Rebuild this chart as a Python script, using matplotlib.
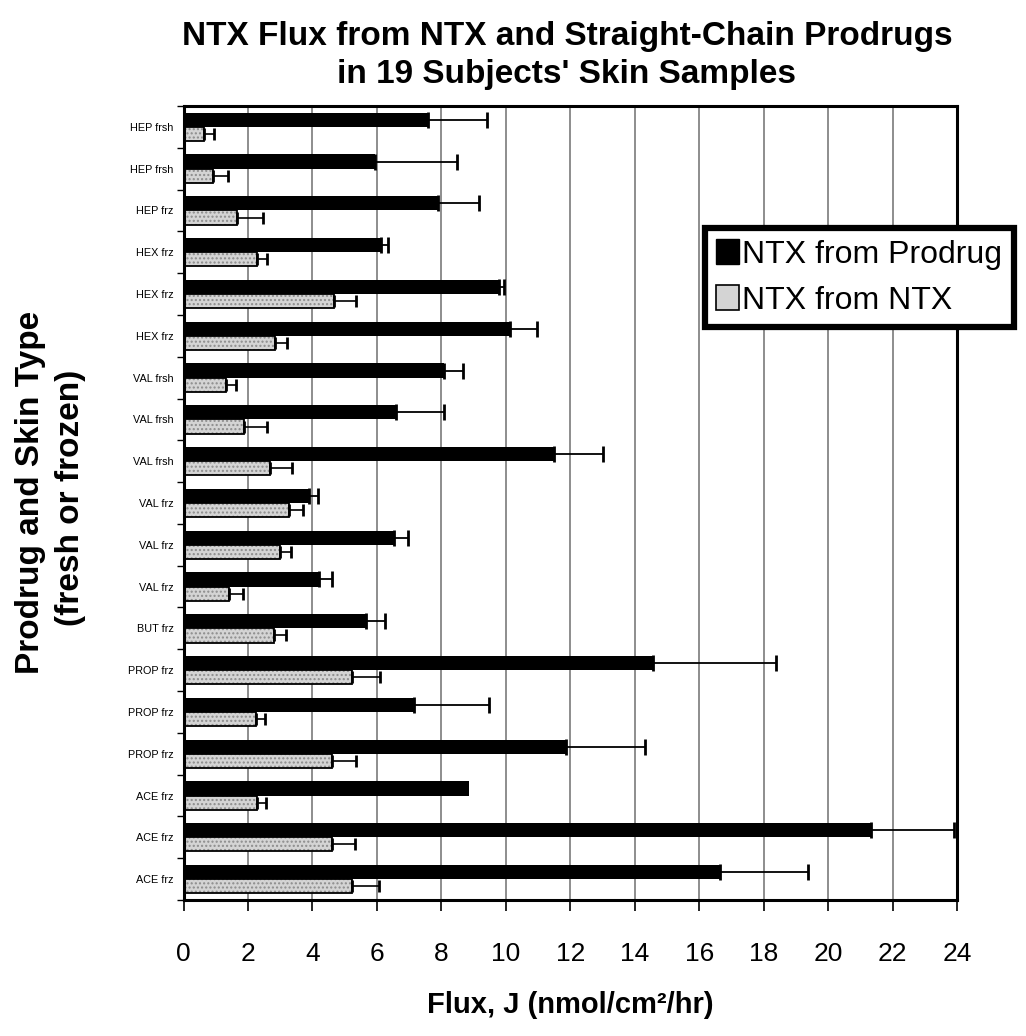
import numpy as np
import matplotlib.pyplot as plt
from matplotlib.patches import Patch

# samples, top to bottom
labels = ["HEP frsh", "HEP frsh", "HEP frz", "HEX frz", "HEX frz", "HEX frz",
          "VAL frsh", "VAL frsh", "VAL frsh", "VAL frz", "VAL frz", "VAL frz",
          "BUT frz", "PROP frz", "PROP frz", "PROP frz",
          "ACE frz", "ACE frz", "ACE frz"]

# NTX from prodrug (black bars) and its SD
prodrug = [7.60, 5.95, 7.88, 6.13, 9.80, 10.14, 8.09, 6.60, 11.48, 3.88,
           6.54, 4.19, 5.66, 14.56, 7.14, 11.87, 8.85, 21.33, 16.65]
prodrug_err = [1.82, 2.53, 1.30, 0.20, 0.15, 0.83, 0.58, 1.49, 1.52, 0.28,
               0.41, 0.43, 0.60, 3.82, 2.33, 2.46, 0.0, 2.57, 2.73]

# NTX from NTX (grey bars) and its SD
ntx = [0.62, 0.92, 1.67, 2.29, 4.68, 2.84, 1.32, 1.88, 2.69, 3.26,
       3.00, 1.42, 2.81, 5.22, 2.25, 4.62, 2.27, 4.62, 5.22]
ntx_err = [0.33, 0.45, 0.78, 0.29, 0.68, 0.36, 0.30, 0.70, 0.67, 0.46,
           0.33, 0.44, 0.37, 0.88, 0.28, 0.73, 0.28, 0.71, 0.83]

x_ticks = list(range(0, 25, 2))
legend_labels = ["NTX from Prodrug", "NTX from NTX"]

plt.rcParams["font.family"] = ["Liberation Sans", "DejaVu Sans"]
narrow = ["Liberation Sans Narrow", "Liberation Sans", "DejaVu Sans"]

fig = plt.figure(figsize=(10.26, 10.36), dpi=100)
ax = fig.add_axes([0.1789, 0.1313, 0.7539, 0.7664])

y = np.arange(len(labels))
h = 0.34
grey = "#d4d4d4"

# bars
ax.barh(y - h / 2, prodrug, height=h, color="black", zorder=2)
ax.barh(y + h / 2, ntx, height=h, color=grey, edgecolor="#8c8c8c",
        hatch="....", linewidth=0, zorder=2)
ax.barh(y + h / 2, ntx, height=h, facecolor="none", edgecolor="black",
        linewidth=1.3, zorder=3)

# one-sided error bars
pe = np.array(prodrug_err)
m = pe > 0
ax.errorbar(np.array(prodrug)[m], (y - h / 2)[m], xerr=[np.zeros(m.sum()), pe[m]],
            fmt="none", ecolor="black", elinewidth=1.3, capsize=6, capthick=2, zorder=4)
ne = np.array(ntx_err)
ax.errorbar(ntx, y + h / 2, xerr=[np.zeros(len(ne)), ne],
            fmt="none", ecolor="black", elinewidth=1.2, capsize=4.5, capthick=2, zorder=4)

# axes
ax.set_xlim(0, 24)
ax.set_ylim(len(labels) - 0.5, -0.5)
ax.set_xticks(x_ticks)
ax.set_xticklabels([str(t) for t in x_ticks])
ax.set_yticks(y)
ax.set_yticklabels(labels, family=narrow)
ax.set_yticks(np.arange(-0.5, len(labels), 1), minor=True)
ax.tick_params(axis="x", length=8, width=1.2, pad=22, labelsize=19)
ax.tick_params(axis="y", which="major", length=0, pad=7, labelsize=7.8)
ax.tick_params(axis="y", which="minor", length=5, width=1)
ax.xaxis.grid(True, color="#7a7a7a", linewidth=1.2)
ax.set_axisbelow(True)
for s in ax.spines.values():
    s.set_linewidth(2.2)

# titles and axis labels
fig.text(0.5526, 1 - 36 / 1036, "NTX Flux from NTX and Straight-Chain Prodrugs",
         ha="center", va="center", fontsize=24, fontweight="bold", family=narrow)
fig.text(0.5526, 1 - 75 / 1036, "in 19 Subjects' Skin Samples",
         ha="center", va="center", fontsize=24, fontweight="bold", family=narrow)
fig.text(31 / 1026, 1 - 492 / 1036, "Prodrug and Skin Type", rotation=90,
         ha="center", va="center", fontsize=24, fontweight="bold", family=narrow)
fig.text(70 / 1026, 1 - 498 / 1036, "(fresh or frozen)", rotation=90,
         ha="center", va="center", fontsize=24, fontweight="bold", family=narrow)
fig.text(0.5555, 1 - 1005 / 1036, "Flux, J (nmol/cm²/hr)",
         ha="center", va="center", fontsize=21, fontweight="bold", family=narrow)

# legend
handles = [Patch(facecolor="black", edgecolor="black"),
           Patch(facecolor=grey, edgecolor="black", linewidth=1.2)]
leg = fig.legend(handles, legend_labels, loc="upper left",
                 bbox_to_anchor=(705 / 1026, 1 - 228 / 1036), fontsize=23,
                 frameon=True, fancybox=False, edgecolor="black", framealpha=1,
                 borderpad=0.35, handlelength=0.7, handleheight=0.8,
                 handletextpad=0.12, labelspacing=0.5, borderaxespad=0)
leg.get_frame().set_linewidth(4.5)

fig.savefig("out.png", dpi=100)
